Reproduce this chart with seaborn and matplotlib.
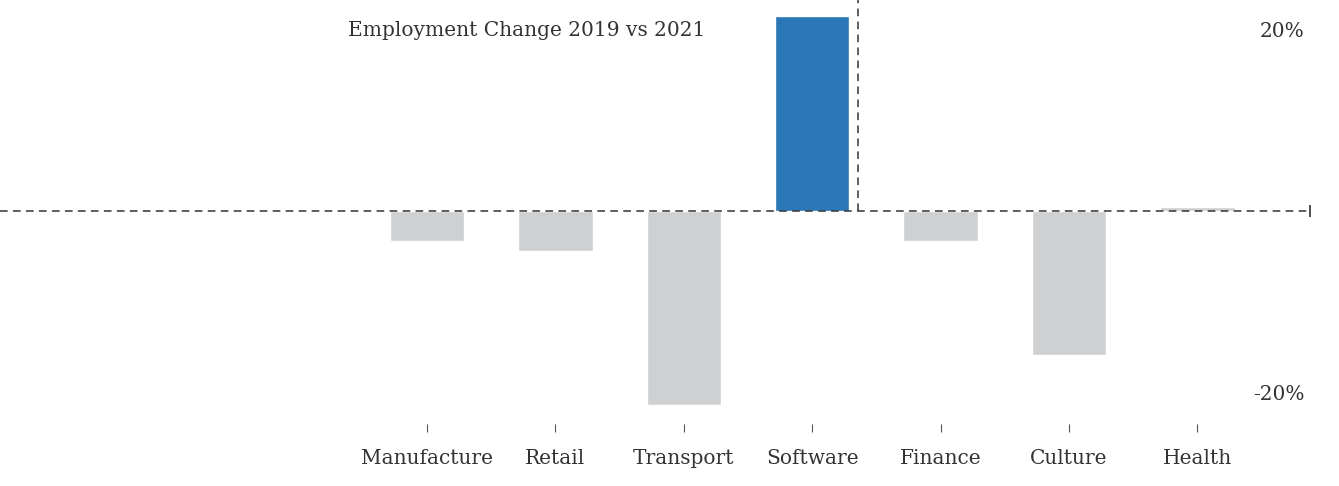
import numpy as np
import pandas as pd
import matplotlib
matplotlib.use("Agg")
import matplotlib.pyplot as plt
import seaborn as sns

# datos del grafico
sectors = ["Manufacture", "Retail", "Transport", "Software", "Finance", "Culture", "Health"]
change_pct = [-3.3, -4.4, -21.4, 21.5, -3.3, -15.9, 0.4]
highlight = "Software"
y_ticks = [-20, 20]
y_tick_labels = ["-20%", "20%"]
title = "Employment Change 2019 vs 2021"

blue = "#2A77B8"
grey = "#CFD0D2"
text_col = "#333333"
line_col = "#333333"

sns.set_theme(style="white")
plt.rcParams["font.family"] = ["DejaVu Serif", "Liberation Serif"]

df = pd.DataFrame({"sector": sectors, "change": change_pct})
palette = {s: (blue if s == highlight else grey) for s in sectors}

fig = plt.figure(figsize=(13.39, 4.86), dpi=100)
ax = fig.add_axes([0, (486 - 424) / 486, 1310 / 1339, 424 / 486])

sns.barplot(data=df, x="sector", y="change", hue="sector", palette=palette,
            width=0.58, legend=False, ax=ax, saturation=1)

# escala: categoria i en x = 427 + 128.4*i px, cero en y = 211 px
x0, dx = 427, 128.4
ax.set_xlim(-x0 / dx, (1310 - x0) / dx)
ax.set_ylim(-(424 - 211) / 9.05, 211 / 9.05)

# linea del cero y linea vertical tras Software
ax.axhline(0, color=line_col, lw=1.1, ls=(0, (5, 3.5)), zorder=3)
ax.vlines(sectors.index(highlight) + 0.36, 0, ax.get_ylim()[1], color=line_col,
          lw=1.1, ls=(0, (5, 3.5)), zorder=3)
ax.plot([ax.get_xlim()[1]], [0], marker="|", color=line_col, ms=9, mew=1.2,
        clip_on=False, zorder=4)

for s in ax.spines.values():
    s.set_visible(False)

ax.set_xlabel("")
ax.set_ylabel("")
ax.tick_params(axis="x", bottom=True, length=6, width=0.8, color="#555555",
               pad=12, labelsize=14.5, labelcolor=text_col)
ax.yaxis.tick_right()
ax.set_yticks(y_ticks)
ax.set_yticklabels(y_tick_labels)
ax.tick_params(axis="y", right=False, pad=-10, labelsize=14.5, labelcolor=text_col)
for lab in ax.get_yticklabels():
    lab.set_horizontalalignment("right")

fig.text(348 / 1339, 1 - 31 / 486, title, fontsize=14.5, color=text_col,
         ha="left", va="center")

fig.savefig("out.png", dpi=100, facecolor="white")
